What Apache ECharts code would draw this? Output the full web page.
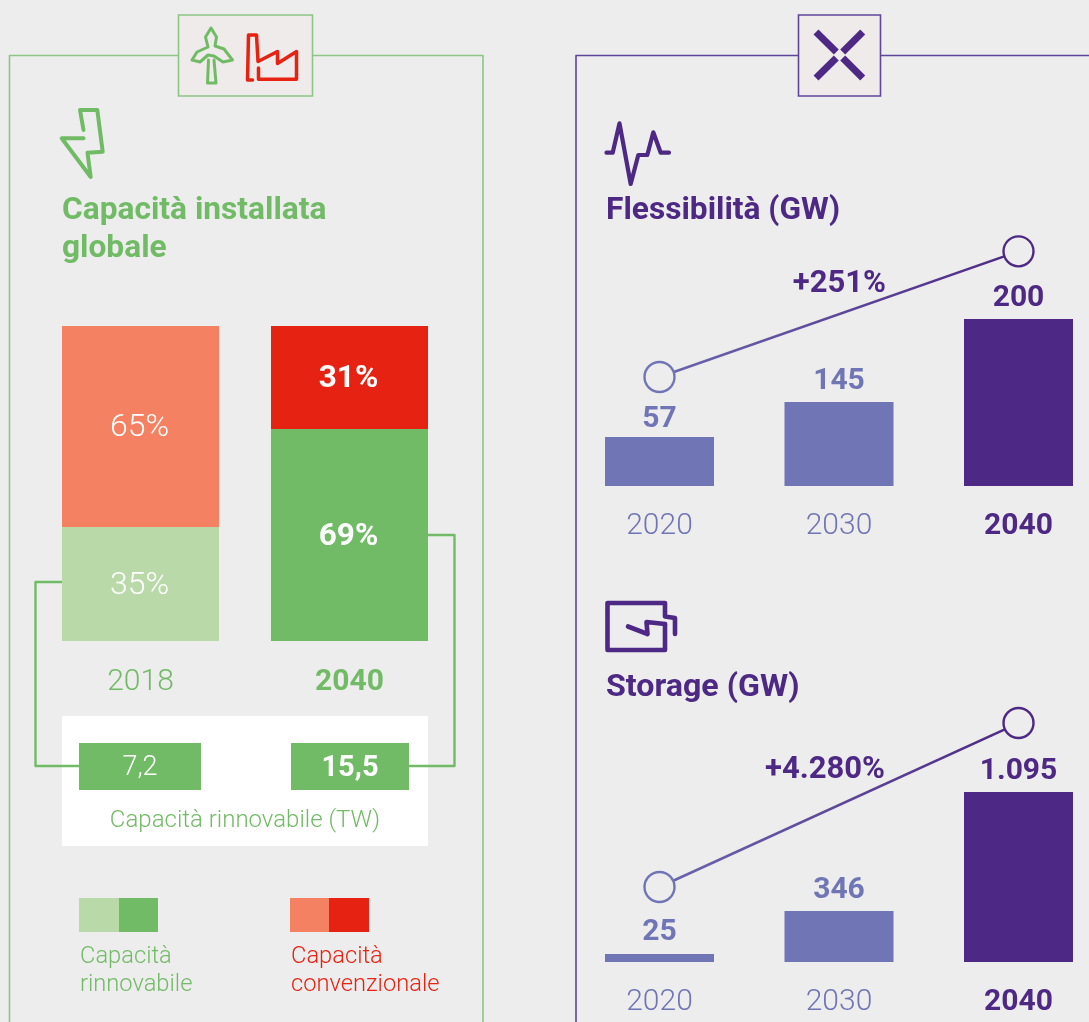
<!DOCTYPE html>
<html><head><meta charset="utf-8">
<style>html,body{margin:0;padding:0;background:#EDEDED;overflow:hidden}#c{width:1089px;height:1022px}</style>
<script src="https://cdn.jsdelivr.net/npm/echarts@6/dist/echarts.min.js"></script>
</head><body><div id="c"></div>
<script>
// ---- data ----
const capacityYears = ['2018', '2040'];
// printed shares
const renewableLabels = ['35%', '69%'];
const conventionalLabels = ['65%', '31%'];
// shares as the bars are actually drawn in the picture (not strictly to the printed figures)
const renewableDrawn = [36.2, 67.3];
const conventionalDrawn = [63.8, 32.7];
const capacityTW = ['7,2', '15,5'];

const years = ['2020', '2030', '2040'];
// printed figures
const flexLabels = ['57', '145', '200'];
const storageLabels = ['25', '346', '1.095'];
// heights as the picture draws them, in GW of the tallest bar
const flexDrawn = [58.7, 100.6, 200];
const storageDrawn = [52, 329, 1095];
// growth line end points (height above the bars), in the same units
const flexGrowth = [130.5, null, 281];
const storageGrowth = [483, null, 1539];
const flexChange = '+251%';
const storageChange = '+4.280%';

// ---- styles ----
const BG = '#EDEDED', GREEN = '#72BB66', LGREEN = '#BAD9A9', RED = '#E62312', ORANGE = '#F48262',
      PURPLE = '#4D2885', LPURPLE = '#7075B5', FRAMEG = '#8CC584', FRAMEP = '#5E469B';
const FONT = 'Roboto';

function txt(x, y, text, size, color, weight, align) {
  return {type: 'text', z: 5, x: x, y: y + 2.5, style: {text: text, fill: color, font: (weight || 300) + ' ' + size + 'px ' + FONT,
    textAlign: align || 'left', textVerticalAlign: 'middle'}};
}
function poly(points, color, lw, extra) {
  return Object.assign({type: 'polyline', z: 1, shape: {points: points},
    style: {stroke: color, lineWidth: lw, fill: null, lineJoin: 'round', lineCap: 'round'}}, extra || {});
}
function box(x, y, w, h, fill, stroke, z) {
  return {type: 'rect', z: z || 1, shape: {x: x, y: y, width: w, height: h},
    style: {fill: fill, stroke: stroke || null, lineWidth: stroke ? 1.6 : 0}};
}

const graphics = [
  // frames
  poly([[483, 1022], [483, 55.5], [9.5, 55.5], [9.5, 1022]], FRAMEG, 1.6),
  box(178.5, 15, 134, 81, '#EEEBEA', FRAMEG, 2),
  poly([[1089, 55.5], [576, 55.5], [576, 1022]], FRAMEP, 1.6),
  box(798.5, 15, 82, 81, '#EEEBEA', FRAMEP, 2),
  // turbine icon
  poly([[208.5, 60], [207.5, 83], [216, 83], [214, 60]], GREEN, 3, {z: 3}),
  poly([[208, 47], [205.5, 37], [211, 28], [216.5, 37], [215, 46], [224, 49], [232.5, 60], [223, 62], [214, 56], [208, 55], [200, 62], [192, 60], [197, 52], [208, 47]], GREEN, 3, {z: 3}),
  // factory icon
  poly([[252.5, 80], [247.5, 80], [248.5, 35], [256.5, 35], [258, 61.5], [277.5, 51.5], [277.5, 63.5], [296.5, 51.5], [296.5, 79.3], [258.5, 79.3], [258.5, 68]], RED, 3.5, {z: 3}),
  // bolt icon
  poly([[83.5, 130], [80, 110], [97.3, 110], [102.7, 151.7], [87.5, 152.7], [90.7, 177], [61.7, 138.3], [83.5, 138.3]], GREEN, 4, {z: 3}),
  // cross icon
  poly([[816, 32], [836.3, 52]], PURPLE, 7, {z: 3, style: {stroke: PURPLE, lineWidth: 7, lineCap: 'butt'}}),
  poly([[862.7, 32], [842.7, 52]], PURPLE, 7, {z: 3, style: {stroke: PURPLE, lineWidth: 7, lineCap: 'butt'}}),
  poly([[816, 78], [836.3, 58]], PURPLE, 7, {z: 3, style: {stroke: PURPLE, lineWidth: 7, lineCap: 'butt'}}),
  poly([[862.7, 78], [842.7, 58]], PURPLE, 7, {z: 3, style: {stroke: PURPLE, lineWidth: 7, lineCap: 'butt'}}),
  // pulse icon
  poly([[606.5, 152.7], [612.7, 152.7], [619.5, 123.3], [630.7, 184], [638.3, 155], [647.3, 155], [653.3, 132.3], [660.7, 152.7], [669, 152.7]], PURPLE, 4.2, {z: 3}),
  // storage icon
  poly([[665, 624], [665, 650], [607.5, 650], [607.5, 603], [665, 603], [665, 616.5], [675, 618], [675, 634]], PURPLE, 4.6, {z: 3}),
  poly([[628, 626.5], [647.5, 634], [646.5, 622], [665, 624]], PURPLE, 4.6, {z: 3}),
  // titles
  txt(62, 209, 'Capacità installata', 31.7, GREEN, 700),
  txt(62, 247, 'globale', 31.7, GREEN, 700),
  txt(606, 209, 'Flessibilità (GW)', 31.7, PURPLE, 700),
  txt(606, 685, 'Storage (GW)', 32.2, PURPLE, 700),
  // growth labels
  txt(886, 282, flexChange, 31, PURPLE, 700, 'right'),
  txt(885, 768, storageChange, 31, PURPLE, 700, 'right'),
  // TW panel
  box(62, 716, 366, 130, '#FFFFFF', null, 1),
  poly([[62, 582], [35.5, 582], [35.5, 766], [79, 766]], GREEN, 2.4),
  poly([[428, 535], [454.5, 535], [454.5, 766], [409, 766]], GREEN, 2.4),
  box(79, 743, 122, 47, GREEN, null, 2),
  box(291, 743, 118, 47, GREEN, null, 2),
  txt(140, 766, capacityTW[0], 27, '#FFFFFF', 300, 'center'),
  txt(350, 766, capacityTW[1], 29, '#FFFFFF', 700, 'center'),
  txt(245, 818, 'Capacità rinnovabile (TW)', 24, GREEN, 300, 'center'),
  // legend
  box(79, 898, 40, 34, LGREEN), box(119, 898, 39, 34, GREEN),
  box(290, 898, 39, 34, ORANGE), box(329, 898, 40, 34, RED),
  txt(80, 954.5, 'Capacità', 23.7, GREEN), txt(80, 983, 'rinnovabile', 23.7, GREEN),
  txt(291, 954.5, 'Capacità', 23.7, RED), txt(291, 983, 'convenzionale', 23.7, RED)
];

function yearAxis(gridIndex, data, dark, light, margin) {
  return {type: 'category', gridIndex: gridIndex,
    data: data.map((y, i) => ({value: y, textStyle: i === data.length - 1
      ? {color: dark, fontWeight: 700} : {color: light, fontWeight: 300}})),
    axisLine: {show: false}, axisTick: {show: false}, splitLine: {show: false},
    axisLabel: {fontFamily: FONT, fontSize: 30, margin: margin}};
}
function hiddenY(gridIndex, max) {
  return {type: 'value', gridIndex: gridIndex, min: 0, max: max, show: false, splitLine: {show: false}};
}
function valueBars(idx, drawn, labels, distances) {
  return {type: 'bar', xAxisIndex: idx, yAxisIndex: idx, barWidth: 109, z: 2,
    data: drawn.map((v, i) => ({value: v, itemStyle: {color: i === 2 ? PURPLE : LPURPLE},
      label: {color: i === 2 ? PURPLE : LPURPLE, distance: distances[i]}})),
    label: {show: true, position: 'top', fontFamily: FONT, fontSize: 30, fontWeight: 700,
      formatter: p => labels[p.dataIndex]}, silent: true};
}
function growthLine(idx, data) {
  return {type: 'line', xAxisIndex: idx, yAxisIndex: idx, connectNulls: true, z: 4, silent: true,
    symbol: 'circle', symbolSize: 30, showAllSymbol: true,
    data: data.map((v, i) => ({value: v, itemStyle: {color: BG, borderWidth: 2.4, borderColor: i === 0 ? LPURPLE : PURPLE}})),
    lineStyle: {width: 2.6, color: {type: 'linear', x: 0, y: 0, x2: 1, y2: 0,
      colorStops: [{offset: 0, color: '#6C66AE'}, {offset: 1, color: PURPLE}]}}};
}
function shareBars(name, drawn, labels, colors) {
  return {type: 'bar', name: name, stack: 'share', barWidth: 157, xAxisIndex: 0, yAxisIndex: 0, silent: true,
    data: drawn.map((v, i) => ({value: v, itemStyle: {color: colors[i]},
      label: {fontWeight: i === 1 ? 700 : 300, fontSize: i === 1 ? 31.5 : 32}})),
    label: {show: true, position: 'inside', offset: [-1, 2], color: '#fff', fontFamily: FONT,
      formatter: p => labels[p.dataIndex]}};
}

const chart = echarts.init(document.getElementById('c'), null, {renderer: 'canvas', width: 1089, height: 1022});
chart.setOption({
  backgroundColor: BG, animation: false, textStyle: {fontFamily: FONT},
  grid: [
    {left: 36, top: 326, width: 418, height: 315, outerBoundsMode: 'none'},
    {left: 569.75, top: 235.5, width: 538.5, height: 250.5, outerBoundsMode: 'none'},
    {left: 569.75, top: 713.6, width: 538.5, height: 248.4, outerBoundsMode: 'none'}
  ],
  xAxis: [
    yearAxis(0, capacityYears, GREEN, GREEN, 26),
    yearAxis(1, years, PURPLE, LPURPLE, 25),
    yearAxis(2, years, PURPLE, LPURPLE, 25)
  ],
  yAxis: [hiddenY(0, 100), hiddenY(1, 300), hiddenY(2, 1600)],
  series: [
    shareBars('Capacità rinnovabile', renewableDrawn, renewableLabels, [LGREEN, GREEN]),
    shareBars('Capacità convenzionale', conventionalDrawn, conventionalLabels, [ORANGE, RED]),
    valueBars(1, flexDrawn, flexLabels, [2, 5, 6]),
    valueBars(2, storageDrawn, storageLabels, [6, 5, 6]),
    growthLine(1, flexGrowth),
    growthLine(2, storageGrowth)
  ],
  graphic: {elements: graphics}
});
</script></body></html>
